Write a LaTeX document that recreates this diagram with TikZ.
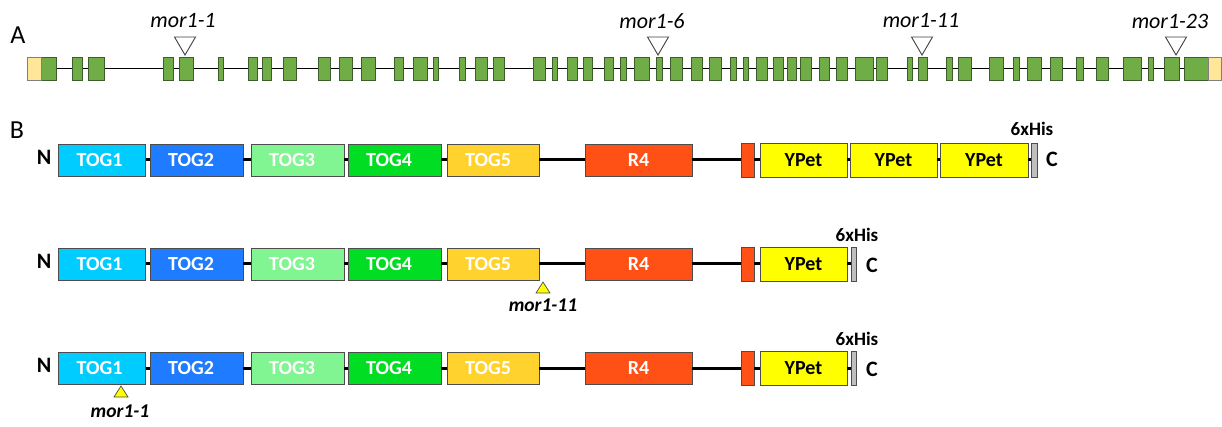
\documentclass[tikz,border=0pt]{standalone}
\usepackage{fontspec}
\setmainfont{Carlito}
\definecolor{exg}{HTML}{70AD47}
\definecolor{exb}{HTML}{3E5F2C}
\definecolor{utr}{HTML}{FFE699}
\definecolor{togA}{HTML}{00CCFF}
\definecolor{togB}{HTML}{1F7BFF}
\definecolor{togC}{HTML}{80F591}
\definecolor{togD}{HTML}{00DD22}
\definecolor{togE}{HTML}{FFD22E}
\definecolor{rfour}{HTML}{FF5016}
\definecolor{ypet}{HTML}{FFFF00}
\definecolor{his}{HTML}{BFBFBF}
\begin{document}
\begin{tikzpicture}[x=1pt,y=-1pt,
  exon/.style={draw=exb,fill=exg,line width=0.8pt},
  utrbox/.style={draw=black!50,fill=utr,line width=0.8pt},
  otri/.style={draw=black!75,fill=white,line width=0.9pt,line join=miter},
  ytri/.style={draw=black!70,fill=ypet,line width=0.7pt},
  alab/.style={font=\itshape\fontsize{22}{22}\selectfont},
  mlab/.style={font=\bfseries\itshape\fontsize{19.5}{19.5}\selectfont},
  panel/.style={font=\fontsize{26}{26}\selectfont},
  lettr/.style={font=\bfseries\fontsize{22}{22}\selectfont},
  hislab/.style={font=\bfseries\fontsize{19}{19}\selectfont},
  dom/.style={draw=black!70,line width=0.7pt,minimum height=32pt,inner sep=0pt},
  domy/.style={dom,minimum height=34pt},
  tl/.style={anchor=west,xshift=15pt,text=white,font=\bfseries\fontsize{20}{20}\selectfont},
  ctw/.style={text=white,font=\bfseries\fontsize{20}{20}\selectfont},
  ctb/.style={text=black,font=\bfseries\fontsize{20}{20}\selectfont},
  link/.style={line width=3pt}]
\useasboundingbox (0,0) rectangle (1222,427);
% ---------- panel A ----------
\node[panel] (pa) at (18,35) {A};
\coordinate (gs) at (27,68.5);
\coordinate (ge) at (1221,68.5);
\draw[line width=0.8pt] (gs) -- (ge);
\foreach \a/\b in {41/56,72/82,88/104,163/173,179/193,218/223,248/257,262/271,283/296,318/330,339/352,361/375,394/403,413/427,433/438,459/465,475/487,493/504,533/545,552/557,567/577,583/592,604/613,620/626,634/649,656/662,670/682,691/702,709/721,730/736,743/748,756/767,773/783,787/796,800/811,819/829,836/847,855/873,876/887,907/912,918/927,946/952,958/971,989/1003,1013/1019,1027/1041,1050/1062,1076/1083,1096/1108,1123/1141,1148/1153,1164/1179,1184/1208}
  {\draw[exon] (\a,57) rectangle (\b,80);}
\draw[utrbox] (27,57) rectangle (41,80);
\draw[utrbox] (1208,57) rectangle (1221,80);
\foreach \x/\lx/\t in {185/183/mor1-1,658/652/mor1-6,922/921/mor1-11,1176/1170/mor1-23}{
  \draw[otri] (\x-10.5,37) -- (\x+10.5,37) -- (\x,55) -- cycle;
  \node[alab] at (\lx,21) {\t};
}
% ---------- panel B ----------
\node[panel] (pb) at (17,130) {B};
\foreach \r/\yy in {1/160,2/264,3/368}{
  \node[lettr] (n\r) at (44,\yy-3) {N};
  \node[dom,fill=togA,minimum width=87pt,label={[tl]west:TOG1}] (a\r) at (102,\yy) {};
  \node[dom,fill=togB,minimum width=93pt,label={[tl]west:TOG2}] (b\r) at (196.5,\yy) {};
  \node[dom,fill=togC,minimum width=93pt,label={[tl]west:TOG3}] (c\r) at (297.5,\yy) {};
  \node[dom,fill=togD,minimum width=93pt,label={[tl]west:TOG4}] (d\r) at (394.5,\yy) {};
  \node[dom,fill=togE,minimum width=92pt,label={[tl]west:TOG5}] (e\r) at (493,\yy) {};
  \node[dom,fill=rfour,minimum width=107pt,ctw] (r\r) at (638.5,\yy) {R4};
  \node[domy,fill=rfour,minimum width=13pt] (o\r) at (747.5,\yy) {};
  \node[domy,fill=ypet,minimum width=87pt,ctb] (y\r) at (803.5,\yy) {YPet};
  \draw[link] (a\r) -- (b\r);
  \draw[link] (b\r) -- (c\r);
  \draw[link] (c\r) -- (d\r);
  \draw[link] (d\r) -- (e\r);
  \draw[link] (e\r) -- (r\r);
  \draw[link] (r\r) -- (o\r);
  \draw[link] (o\r) -- (y\r);
}
% row 1 C-terminal part
\node[domy,fill=ypet,minimum width=87pt,ctb] (y1b) at (893.5,160) {YPet};
\node[domy,fill=ypet,minimum width=88pt,ctb] (y1c) at (984,160) {YPet};
\node[domy,fill=his,minimum width=6pt] (h1) at (1034,160) {};
\draw[link] (y1) -- (y1b);
\draw[link] (y1b) -- (y1c);
\draw[link] (y1c) -- (h1);
\node[lettr] (c1) at (1052,159) {C};
\node[hislab] (hl1) at (1032,129) {6xHis};
% rows 2 and 3 C-terminal part
\foreach \r/\yy in {2/264,3/368}{
  \node[domy,fill=his,minimum width=5pt] (h\r) at (853.5,\yy) {};
  \draw[link] (y\r) -- (h\r);
  \node[lettr] (cc\r) at (872,\yy+1) {C};
  \node[hislab] (hl\r) at (857,\yy-29) {6xHis};
}
% insertion sites
\draw[ytri] (543,282) -- (550,293) -- (536,293) -- cycle;
\node[mlab] (m11) at (543,305) {mor1-11};
\draw[ytri] (121,386) -- (128,397) -- (114,397) -- cycle;
\node[mlab] (m1) at (120,411) {mor1-1};
\end{tikzpicture}
\end{document}
